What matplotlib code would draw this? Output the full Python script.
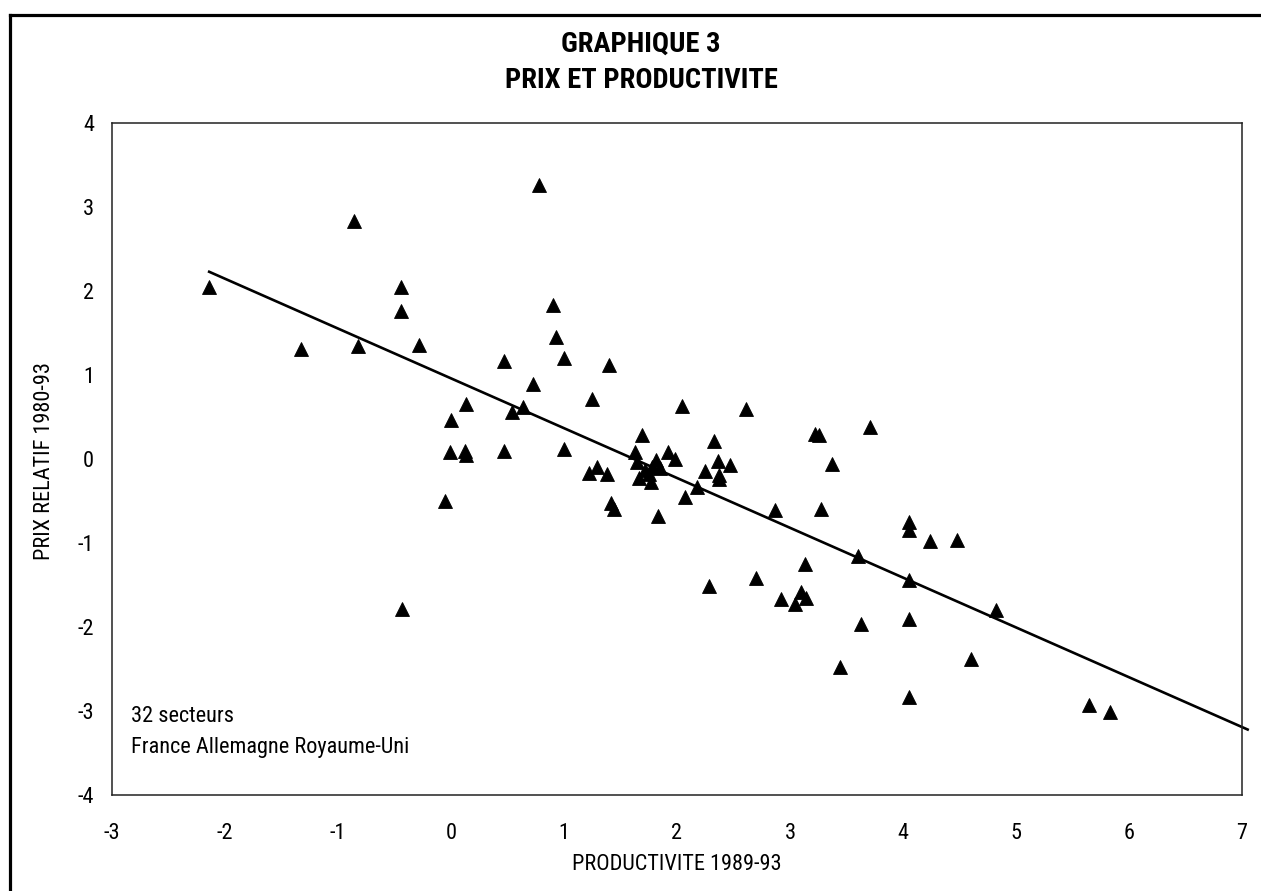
import matplotlib
matplotlib.use("Agg")
import matplotlib.pyplot as plt
from matplotlib.lines import Line2D
import numpy as np

plt.rcParams['font.family'] = ['Roboto Condensed', 'DejaVu Sans']

# productivite 1989-93 (x) / prix relatif 1980-93 (y)
productivite = [-2.14, -1.33, -0.86, -0.82, -0.44, -0.44, -0.28, -0.43, -0.05, 0.00,
                -0.01, 0.13, 0.12, 0.13, 0.47, 0.47, 0.54, 0.64, 0.73, 0.78,
                0.90, 0.93, 1.00, 1.00, 1.25, 1.40, 1.22, 1.29, 1.38, 1.42,
                1.44, 1.69, 1.63, 1.65, 1.66, 1.72, 1.78, 1.81, 1.85, 1.92,
                1.98, 1.77, 1.75, 1.83, 2.04, 2.07, 2.18, 2.25, 2.33, 2.36,
                2.37, 2.37, 2.47, 2.61, 2.87, 2.28, 2.70, 2.92, 3.04, 3.10,
                3.14, 3.13, 3.22, 3.26, 3.27, 3.37, 3.71, 3.60, 3.63, 3.44,
                4.05, 4.05, 4.24, 4.48, 4.05, 4.05, 4.05, 4.60, 4.82, 5.65,
                5.83]
prix = [2.05, 1.31, 2.83, 1.35, 2.05, 1.76, 1.36, -1.79, -0.50, 0.47,
        0.08, 0.65, 0.10, 0.05, 1.17, 0.09, 0.56, 0.62, 0.89, 3.26,
        1.83, 1.45, 1.20, 0.12, 0.71, 1.12, -0.17, -0.10, -0.18, -0.52,
        -0.60, 0.29, 0.08, -0.03, -0.23, -0.13, -0.09, -0.01, -0.11, 0.08,
        0.00, -0.27, -0.18, -0.68, 0.63, -0.45, -0.33, -0.14, 0.21, -0.02,
        -0.19, -0.24, -0.07, 0.60, -0.61, -1.51, -1.42, -1.67, -1.73, -1.58,
        -1.66, -1.25, 0.30, 0.29, -0.59, -0.06, 0.38, -1.15, -1.96, -2.48,
        -0.75, -0.85, -0.98, -0.96, -1.44, -1.90, -2.83, -2.38, -1.80, -2.93,
        -3.01]

# droite de regression
pente = -0.593
constante = 0.96
droite_x = [min(productivite), 7.05]

x_ticks = [-3, -2, -1, 0, 1, 2, 3, 4, 5, 6, 7]
y_ticks = [-4, -3, -2, -1, 0, 1, 2, 3, 4]

W, H = 1261, 891
fs = 16
fig = plt.figure(figsize=(W / 100, H / 100), dpi=100)
ax = fig.add_axes([112 / W, 1 - 795 / H, 1130 / W, 672 / H])

ax.plot(productivite, prix, linestyle='none', marker='^', ms=10.5,
        color='black', mew=0.6, zorder=3)
dx = np.array(droite_x)
ax.plot(dx, pente * dx + constante, color='black', lw=1.9, clip_on=False, zorder=2)

ax.set_xlim(-3, 7)
ax.set_ylim(-4, 4)
ax.set_xticks(x_ticks)
ax.set_yticks(y_ticks)
ax.set_xticklabels([str(t) for t in x_ticks])
ax.set_yticklabels([str(t) for t in y_ticks])
ax.tick_params(axis='x', length=0, pad=20, labelsize=fs)
ax.tick_params(axis='y', length=0, pad=13, labelsize=fs)
for s in ax.spines.values():
    s.set_color('#222222')
    s.set_linewidth(1.1)

ax.set_xlabel('PRODUCTIVITE 1989-93', fontsize=fs, va='center')
ax.xaxis.set_label_coords(0.5, (795 - 865) / 672)
ax.set_ylabel('PRIX RELATIF 1980-93', fontsize=fs, va='center')
ax.yaxis.set_label_coords((45 - 112) / 1130, 0.497)

ax.text(0.017, (795 - 717) / 672, '32 secteurs', transform=ax.transAxes,
        fontsize=fs, va='center', ha='left')
ax.text(0.017, (795 - 747) / 672, 'France Allemagne Royaume-Uni', transform=ax.transAxes,
        fontsize=fs, va='center', ha='left')

fig.text(641 / W, 1 - 44.5 / H, 'GRAPHIQUE 3', ha='center', va='center',
         fontsize=20.5, fontweight='bold')
fig.text(641 / W, 1 - 80.5 / H, 'PRIX ET PRODUCTIVITE', ha='center', va='center',
         fontsize=20.5, fontweight='bold')

# cadre exterieur (coupe a droite et en bas)
fx, fy = 9.5 / W, 1 - 14.5 / H
fig.add_artist(Line2D([fx, fx], [0, fy], color='black', lw=2.3))
fig.add_artist(Line2D([fx, 1], [fy, fy], color='black', lw=2.3))

fig.savefig('out.png', dpi=100)
